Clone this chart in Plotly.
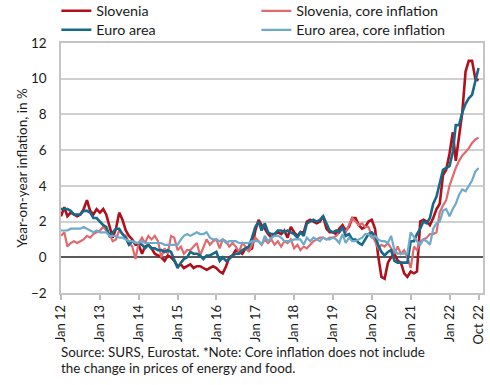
import pandas as pd
import plotly.graph_objects as go

months = pd.date_range("2012-01-01", "2022-10-01", freq="MS")

slovenia = [
    2.3, 2.8, 2.3, 2.5, 2.4, 2.3, 2.4, 2.7, 3.2, 2.6, 2.4, 2.7,
    2.5, 2.7, 2.4, 1.8, 1.1, 1.6, 2.5, 2.1, 1.5, 1.2, 1.0, 0.7,
    0.7, 0.2, 0.6, 0.7, 0.5, 0.2, 0.1, 0.0, -0.2, 0.1, 0.0, -0.2,
    -0.5, -0.4, -0.6, -0.5, -0.4, -0.6, -0.5, -0.5, -0.6, -0.7, -0.6, -0.5,
    -0.6, -0.8, -0.9, -0.5, 0.0, 0.1, 0.4, 0.3, 0.2, 0.5, 0.4, 0.5,
    1.5, 2.1, 1.8, 1.6, 1.3, 1.1, 1.3, 1.4, 1.3, 1.5, 1.1, 1.7,
    1.4, 1.2, 1.4, 1.4, 2.0, 2.1, 2.0, 1.9, 2.0, 2.3, 1.6, 1.4,
    1.4, 1.3, 1.6, 1.8, 1.5, 1.7, 2.2, 2.2, 1.8, 1.6, 1.7, 2.0,
    2.1, 1.6, 0.1, -1.1, -1.2, -0.3, 0.0, 0.2, -0.2, -0.3, -0.9, -1.1,
    -0.8, -0.9, -0.8, 2.0, 2.1, 2.0, 1.8, 2.2, 2.7, 3.0, 4.6, 4.9,
    5.8, 7.0, 5.4, 6.9, 8.1, 10.4, 11.0, 11.0, 10.0, 9.9,
]

slovenia_core = [
    1.2, 1.4, 0.6, 0.8, 0.9, 0.8, 0.9, 1.0, 1.2, 1.1, 1.3, 1.4,
    1.5, 1.7, 1.5, 1.3, 0.9, 1.0, 1.5, 1.3, 1.2, 0.8, 0.6, -0.1,
    0.8, 1.1, 0.8, 1.2, 1.0, 1.2, 0.9, 0.0, 0.5, 0.2, 1.2, 1.1,
    0.4, 0.6, 0.2, 0.4, 0.4, 0.6, 0.8, 0.1, 0.6, 1.0, 0.7, 0.9,
    1.0, 0.5, 1.0, 0.9, 0.6, 0.8, 0.6, 0.3, 0.8, 0.6, 0.3, 0.7,
    1.1, 0.9, 0.7, 1.0, 0.8, 1.0, 0.7, 0.9, 0.6, 0.9, 0.8, 1.0,
    0.5, 0.7, 0.4, 0.6, 0.5, 0.7, 0.9, 1.0, 1.1, 1.1, 1.0, 1.1,
    1.1, 1.2, 1.4, 1.6, 1.4, 1.8, 2.2, 2.0, 1.8, 1.9, 1.7, 1.7,
    1.2, 0.9, 0.5, 0.7, 0.6, 0.8, 0.5, 0.2, 0.6, 0.2, 0.4, 0.0,
    -0.6, 0.6, 0.4, 0.9, 1.0, 1.1, 1.3, 1.3, 1.4, 2.5, 2.9, 3.2,
    4.0, 4.6, 5.0, 5.4, 5.7, 5.9, 6.1, 6.4, 6.6, 6.7,
]

euro_area = [
    2.7, 2.7, 2.7, 2.6, 2.4, 2.4, 2.4, 2.6, 2.6, 2.5, 2.2, 2.2,
    2.0, 1.8, 1.7, 1.2, 1.4, 1.6, 1.6, 1.3, 1.1, 0.7, 0.9, 0.8,
    0.8, 0.7, 0.5, 0.7, 0.5, 0.5, 0.4, 0.4, 0.3, 0.4, 0.3, -0.2,
    -0.6, -0.3, -0.1, 0.0, 0.3, 0.2, 0.2, 0.1, -0.1, 0.1, 0.1, 0.2,
    0.3, -0.2, 0.0, -0.2, -0.1, 0.1, 0.2, 0.2, 0.4, 0.5, 0.6, 1.1,
    1.7, 2.0, 1.5, 1.9, 1.4, 1.3, 1.3, 1.5, 1.5, 1.4, 1.5, 1.4,
    1.3, 1.1, 1.4, 1.2, 1.9, 2.0, 2.1, 2.0, 2.1, 2.3, 1.9, 1.5,
    1.4, 1.5, 1.4, 1.7, 1.2, 1.3, 1.0, 1.0, 0.8, 0.7, 1.0, 1.3,
    1.4, 1.2, 0.7, 0.3, 0.1, 0.3, 0.4, -0.2, -0.3, -0.3, -0.3, -0.3,
    0.9, 0.9, 1.3, 1.6, 2.0, 1.9, 2.2, 3.0, 3.4, 4.1, 4.9, 5.0,
    5.1, 5.9, 7.4, 7.4, 8.1, 8.6, 8.9, 9.1, 9.9, 10.6,
]

euro_area_core = [
    1.5, 1.5, 1.5, 1.6, 1.6, 1.6, 1.6, 1.7, 1.6, 1.5, 1.4, 1.5,
    1.4, 1.4, 1.4, 1.2, 1.2, 1.2, 1.1, 1.1, 1.0, 0.9, 0.9, 0.8,
    0.8, 0.9, 0.8, 0.8, 0.8, 0.8, 0.8, 0.8, 0.7, 0.7, 0.7, 0.7,
    0.7, 1.0, 1.2, 1.3, 1.2, 1.3, 1.4, 1.3, 1.3, 1.4, 1.1, 1.0,
    1.0, 0.9, 1.0, 0.8, 0.9, 0.9, 0.9, 0.8, 0.8, 0.8, 0.8, 0.9,
    0.9, 0.9, 0.7, 1.2, 0.9, 1.1, 1.2, 1.2, 1.1, 0.9, 0.9, 0.9,
    1.0, 1.0, 1.0, 0.7, 1.1, 0.9, 1.1, 1.0, 0.9, 1.1, 1.0, 1.0,
    1.1, 1.0, 0.8, 1.3, 0.8, 1.1, 0.9, 0.9, 1.0, 1.1, 1.3, 1.3,
    1.1, 1.2, 1.0, 0.9, 0.9, 0.8, 1.2, 0.4, 0.2, 0.2, 0.2, 0.2,
    1.4, 1.1, 0.9, 0.7, 1.0, 0.9, 0.7, 1.6, 1.9, 2.0, 2.6, 2.7,
    2.3, 2.7, 3.0, 3.5, 3.8, 3.7, 4.0, 4.3, 4.8, 5.0,
]

tick_dates = ["2012-01-01", "2013-01-01", "2014-01-01", "2015-01-01", "2016-01-01",
              "2017-01-01", "2018-01-01", "2019-01-01", "2020-01-01", "2021-01-01",
              "2022-01-01", "2022-10-01"]
tick_labels = ["Jan 12", "Jan 13", "Jan 14", "Jan 15", "Jan 16", "Jan 17", "Jan 18",
               "Jan 19", "Jan 20", "Jan 21", "Jan 22", "Oct 22"]
y_ticks = [-2, 0, 2, 4, 6, 8, 10, 12]

series = [
    ("Slovenia", slovenia, "#B0101A", 2.6, "legend"),
    ("Slovenia, core inflation", slovenia_core, "#E06A6E", 2.2, "legend"),
    ("Euro area", euro_area, "#17698A", 2.6, "legend2"),
    ("Euro area, core inflation", euro_area_core, "#6EAACB", 2.2, "legend2"),
]

FONT = "Lato"
TXT = "#1a1a1a"
fig = go.Figure()
for name, vals, color, w, leg in series:
    fig.add_trace(go.Scatter(x=months, y=vals, mode="lines", name=name, legend=leg,
                             line=dict(color=color, width=w)))

leg_common = dict(orientation="h", xref="paper", yref="paper",
                  x=-0.011, xanchor="left", yanchor="middle",
                  entrywidth=155, entrywidthmode="pixels",
                  font=dict(family=FONT, size=14.3, color=TXT),
                  itemwidth=30, bgcolor="rgba(0,0,0,0)")

fig.update_layout(
    width=490, height=385,
    margin=dict(l=61, r=7, t=43, b=92, autoexpand=False),
    paper_bgcolor="white", plot_bgcolor="white",
    font=dict(family=FONT, size=13, color=TXT),
    showlegend=True,
    legend=dict(**leg_common, y=1.128),
    legend2=dict(**leg_common, y=1.052),
    annotations=[
        dict(text="Source: SURS, Eurostat. *Note: Core inflation does not include",
             xref="paper", yref="paper", x=-0.004, y=-0.236, xanchor="left", yanchor="middle",
             align="left", showarrow=False, font=dict(family=FONT, size=13.4, color=TXT)),
        dict(text="the change in prices of energy and food.",
             xref="paper", yref="paper", x=-0.004, y=-0.300, xanchor="left", yanchor="middle",
             align="left", showarrow=False, font=dict(family=FONT, size=13.4, color=TXT)),
    ],
)

fig.update_xaxes(
    range=["2012-01-01", "2022-11-12"],
    tickvals=tick_dates, ticktext=tick_labels, tickangle=-90,
    ticks="outside", ticklen=5, tickcolor="#bdbdbd", tickwidth=1.5,
    showgrid=False, showline=True, linecolor="#c4c4c4", linewidth=1.5, mirror=True,
    tickfont=dict(family=FONT, size=13, color=TXT),
)
fig.update_yaxes(
    range=[-2, 12], tickvals=y_ticks, ticks="",
    showgrid=True, gridcolor="#d0d0d0", gridwidth=1.5,
    zeroline=True, zerolinecolor="#5a5a5a", zerolinewidth=1.5,
    showline=True, linecolor="#c4c4c4", linewidth=1.5, mirror=True,
    ticklabelstandoff=10,
    tickfont=dict(family=FONT, size=13.5, color=TXT),
    title=dict(text="Year-on-year inflation, in %", standoff=0,
               font=dict(family=FONT, size=13.5, color=TXT)),
)

fig.write_html("out.html", config={"displayModeBar": False},
               post_script="document.body.style.margin='0px';")
